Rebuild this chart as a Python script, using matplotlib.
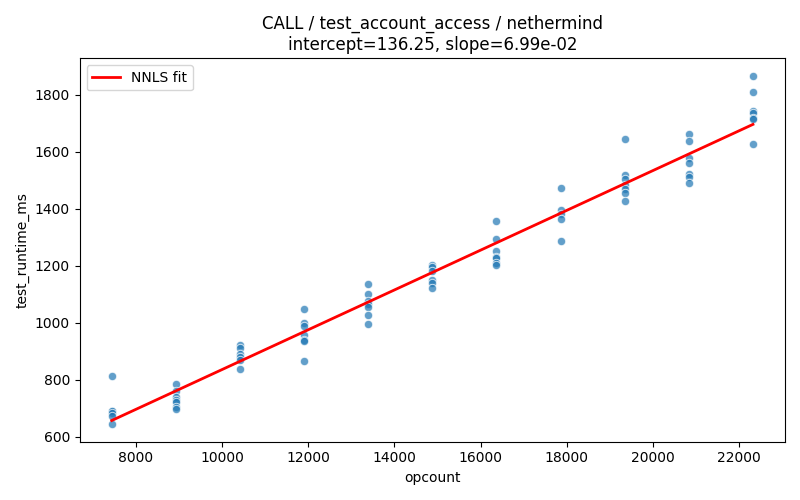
import matplotlib
matplotlib.use("Agg")
import matplotlib.pyplot as plt
import numpy as np

opcounts = [7440, 8928, 10416, 11904, 13392, 14880, 16368, 17856, 19344, 20832, 22320]
runtimes = [
    [812, 690, 688, 683, 672, 643],
    [785, 760, 740, 730, 722, 703, 698],
    [922, 912, 890, 878, 868, 838],
    [1048, 998, 990, 958, 940, 935, 866],
    [1136, 1100, 1075, 1066, 1055, 1028, 996],
    [1202, 1195, 1183, 1150, 1140, 1120],
    [1357, 1294, 1250, 1232, 1226, 1210, 1202],
    [1473, 1396, 1383, 1365, 1287],
    [1646, 1518, 1503, 1485, 1470, 1455, 1427],
    [1663, 1638, 1580, 1562, 1523, 1512, 1490],
    [1867, 1810, 1742, 1736, 1720, 1715, 1627],
]
intercept = 136.25
slope = 6.99e-02

xs = []
ys = []
for x, vals in zip(opcounts, runtimes):
    for v in vals:
        xs.append(x)
        ys.append(v)

fig, ax = plt.subplots(figsize=(8, 5), dpi=100)
ax.scatter(xs, ys, s=36, color="#1f77b4", alpha=0.7, edgecolor="white", linewidth=0.75, zorder=2)
xl = np.array([min(opcounts), max(opcounts)])
ax.plot(xl, intercept + slope * xl, color="red", linewidth=2, label="NNLS fit", zorder=3)
ax.set_xlabel("opcount")
ax.set_ylabel("test_runtime_ms")
ax.set_title(f"CALL / test_account_access / nethermind\nintercept={intercept:.2f}, slope={slope:.2e}")
ax.legend(loc="upper left")
fig.tight_layout()
fig.savefig("out.png")
